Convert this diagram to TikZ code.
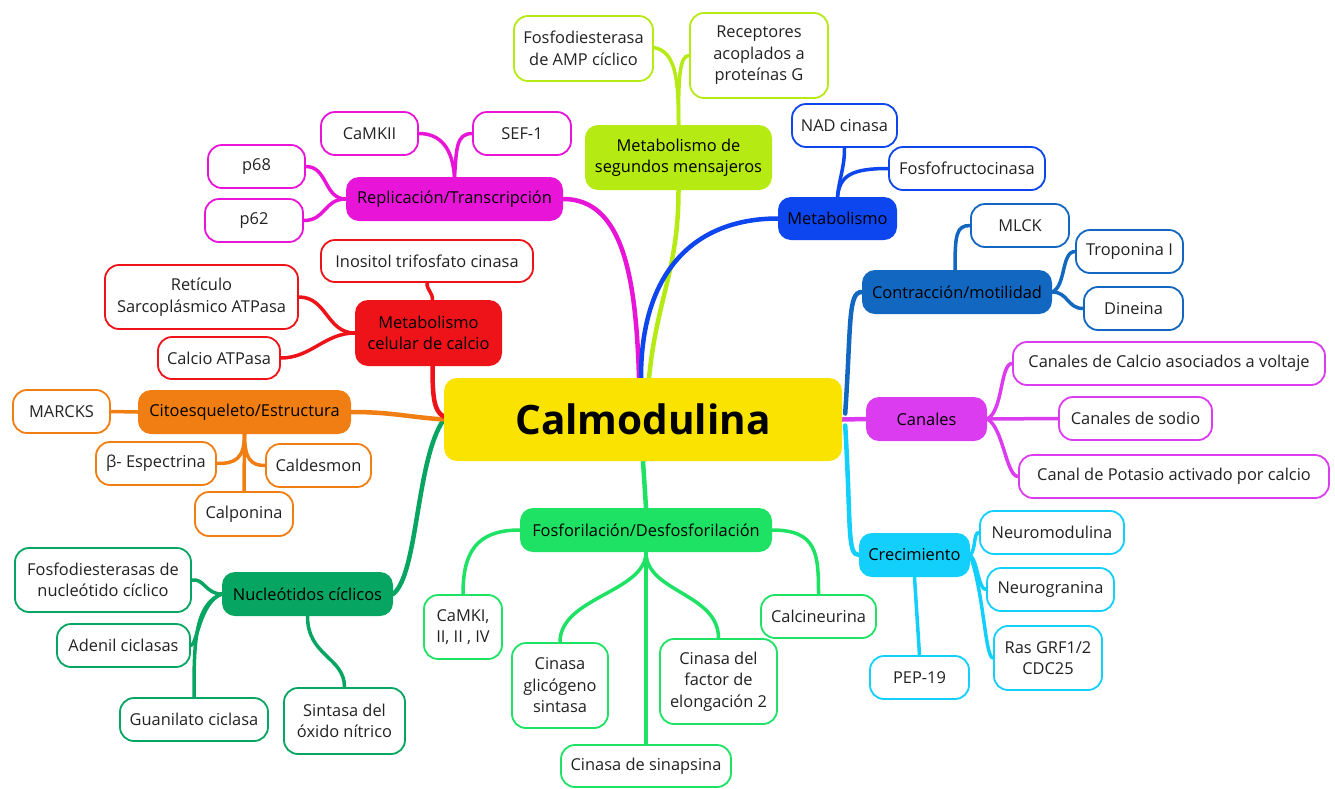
\documentclass[tikz,border=0pt]{standalone}
\usepackage{fontspec}
\setmainfont{Open Sans}
\usetikzlibrary{calc,backgrounds}
\definecolor{cmag}{HTML}{E815D8}
\definecolor{clime}{HTML}{B5EA12}
\definecolor{cblue}{HTML}{0D45EE}
\definecolor{cbl2}{HTML}{1267C0}
\definecolor{cpur}{HTML}{DC3CF0}
\definecolor{ccyan}{HTML}{12CFFB}
\definecolor{cgrn}{HTML}{1DE264}
\definecolor{cdgrn}{HTML}{06A561}
\definecolor{corg}{HTML}{F07E12}
\definecolor{cred}{HTML}{EE1219}
\definecolor{cyel}{HTML}{FBE300}
\definecolor{ctext}{HTML}{222222}
\tikzset{
  leaf/.style={draw=#1, line width=1.8pt, rounded corners=14pt, fill=white, align=center,
    font=\fontsize{16.4}{21.5}\selectfont, text=ctext, inner sep=0pt},
  branch/.style={fill=#1, rounded corners=13pt, align=center,
    font=\fontsize{16.4}{21.5}\selectfont, text=black, inner sep=0pt},
  mainlink/.style={draw=#1, line width=4.5pt, line cap=round},
  sublink/.style={draw=#1, line width=3.5pt, line cap=round},
  sz/.style 2 args={minimum width=#1, minimum height=#2},
}
\begin{document}
\begin{tikzpicture}[x=1pt,y=-1pt]
\useasboundingbox (0,0) rectangle (1335,788);
% center
\node[fill=cyel, rounded corners=13pt, sz={398pt}{83pt}, font=\fontsize{40.5}{42}\selectfont\bfseries, inner sep=0pt] (calm) at (643,419.5) {Calmodulina};
% branches
\node[branch=cmag, sz={217pt}{44pt}] (rep) at (454.5,199) {Replicación/Transcripción};
\node[branch=clime, sz={187pt}{65pt}] (lime) at (678.5,157.5) {Metabolismo de\\segundos mensajeros};
\node[branch=cblue, sz={119pt}{43pt}] (metab) at (837.5,218.5) {Metabolismo};
\node[branch=cbl2, sz={190pt}{44pt}] (contr) at (957,292) {Contracción/motilidad};
\node[branch=cpur, sz={121pt}{44pt}] (canal) at (926.5,419) {Canales};
\node[branch=ccyan, sz={111pt}{44pt}] (crec) at (914.5,555) {Crecimiento};
\node[branch=cgrn, sz={252pt}{44pt}] (fosfo) at (646,530) {Fosforilación/Desfosforilación};
\node[branch=cdgrn, sz={171pt}{44pt}] (nucl) at (307.5,594) {Nucleótidos cíclicos};
\node[branch=corg, sz={213pt}{44pt}] (cito) at (244.5,412) {Citoesqueleto/Estructura};
\node[branch=cred, sz={147pt}{66pt}] (red) at (428.5,333) {Metabolismo\\celular de calcio};
% leaves magenta
\node[leaf=cmag, sz={97pt}{43pt}] (camkii) at (369.5,133.5) {CaMKII};
\node[leaf=cmag, sz={98pt}{43pt}] (sef) at (522,133.5) {SEF-1};
\node[leaf=cmag, sz={97pt}{43pt}] (p68) at (256.5,166.5) {p68};
\node[leaf=cmag, sz={98pt}{43pt}] (p62) at (254,220.5) {p62};
% lime
\node[leaf=clime, sz={139pt}{65pt}] (pdeamp) at (583.5,48.5) {Fosfodiesterasa\\de AMP cíclico};
\node[leaf=clime, sz={138pt}{85pt}] (recep) at (759,55.5) {Receptores\\acoplados a\\proteínas G};
% blue
\node[leaf=cblue, sz={105pt}{43pt}] (nad) at (844.5,125.5) {NAD cinasa};
\node[leaf=cblue, sz={156pt}{43pt}] (pfk) at (967,168.5) {Fosfofructocinasa};
% contraction
\node[leaf=cbl2, sz={98pt}{43pt}] (mlck) at (1020,225.5) {MLCK};
\node[leaf=cbl2, sz={107pt}{43pt}] (tropo) at (1129.5,251.5) {Troponina I};
\node[leaf=cbl2, sz={99pt}{43pt}] (dine) at (1133.5,308.5) {Dineina};
% canales
\node[leaf=cpur, sz={312pt}{43pt}] (ccav) at (1169,363.5) {Canales de Calcio asociados a voltaje};
\node[leaf=cpur, sz={153pt}{43pt}] (sodio) at (1135.5,418.5) {Canales de sodio};
\node[leaf=cpur, sz={310pt}{43pt}] (pota) at (1174,476.5) {Canal de Potasio activado por calcio};
% crecimiento
\node[leaf=ccyan, sz={144pt}{43pt}] (nmod) at (1052,532.5) {Neuromodulina};
\node[leaf=ccyan, sz={127pt}{43pt}] (ngran) at (1050.5,589.5) {Neurogranina};
\node[leaf=ccyan, sz={108pt}{64pt}] (ras) at (1048,658) {Ras GRF1/2\\CDC25};
\node[leaf=ccyan, sz={99pt}{43pt}] (pep) at (919.5,677.5) {PEP-19};
% fosforilacion
\node[leaf=cgrn, sz={78pt}{64pt}] (camki) at (463,627) {CaMKI,\\II, II , IV};
\node[leaf=cgrn, sz={96pt}{85pt}] (glic) at (560,685.5) {Cinasa\\glicógeno\\sintasa};
\node[leaf=cgrn, sz={170pt}{42pt}] (sinap) at (646,766) {Cinasa de sinapsina};
\node[leaf=cgrn, sz={117pt}{85pt}] (factor) at (718.5,681.5) {Cinasa del\\factor de\\elongación 2};
\node[leaf=cgrn, sz={115pt}{43pt}] (calci) at (818.5,616.5) {Calcineurina};
% nucleotidos
\node[leaf=cdgrn, sz={176pt}{64pt}] (pdenuc) at (103,580) {Fosfodiesterasas de\\nucleótido cíclico};
\node[leaf=cdgrn, sz={133pt}{43pt}] (adenil) at (123.5,645.5) {Adenil ciclasas};
\node[leaf=cdgrn, sz={148pt}{43pt}] (guan) at (194,719.5) {Guanilato ciclasa};
\node[leaf=cdgrn, sz={121pt}{66pt}] (nos) at (344.5,721) {Sintasa del\\óxido nítrico};
% citoesqueleto
\node[leaf=corg, sz={97pt}{43pt}] (marcks) at (61.5,411.5) {MARCKS};
\node[leaf=corg, sz={120pt}{43pt}] (espec) at (156,463.5) {β- Espectrina};
\node[leaf=corg, sz={105pt}{43pt}] (caldes) at (318.5,465.5) {Caldesmon};
\node[leaf=corg, sz={98pt}{44pt}] (calpo) at (244,514) {Calponina};
% red
\node[leaf=cred, sz={212pt}{42pt}] (ip3) at (427,261) {Inositol trifosfato cinasa};
\node[leaf=cred, sz={193pt}{64pt}] (serca) at (201.5,297) {Retículo\\Sarcoplásmico ATPasa};
\node[leaf=cred, sz={122pt}{42pt}] (pmca) at (219,358) {Calcio ATPasa};

\begin{scope}[on background layer]
% main links
\draw[mainlink=cmag] ($(calm.north)+(-4,0)$) .. controls +(-3,-100) and +(60,0) .. (rep.east);
\draw[mainlink=clime] ($(calm.north)+(6,0)$) .. controls +(8,-80) and +(0,80) .. (lime.south);
\draw[mainlink=cblue] ($(calm.north)+(-2,0)$) .. controls +(0,-110) and +(-80,0) .. (metab.west);
\draw[mainlink=cbl2] ($(calm.east)+(3,-6)$) .. controls +(6,-90) and +(-14,0) .. (contr.west);
\draw[mainlink=cpur] (calm.east) -- (canal.west);
\draw[mainlink=ccyan] ($(calm.east)+(3,6)$) .. controls +(6,100) and +(-12,0) .. (crec.west);
\draw[mainlink=cgrn] (calm.south) -- (fosfo.north);
\draw[mainlink=cdgrn] (calm.west) .. controls +(-28,40) and +(25,-20) .. (nucl.east);
\draw[mainlink=corg] (calm.west) .. controls +(-40,-3) and +(40,0) .. (cito.east);
\draw[mainlink=cred] ($(red.south)+(4,0)$) .. controls +(0,30) and +(-10,-5) .. ($(calm.west)+(0,-3)$);
% magenta
\draw[sublink=cmag] (rep.north) .. controls +(-2,-28) and +(22,0) .. (camkii.east);
\draw[sublink=cmag] (rep.north) .. controls +(2,-28) and +(-16,0) .. (sef.west);
\draw[sublink=cmag] (p68.east) .. controls +(22,0) and +(-22,0) .. (rep.west);
\draw[sublink=cmag] (p62.east) .. controls +(22,0) and +(-22,0) .. (rep.west);
% lime
\draw[sublink=clime] (lime.north) .. controls +(0,-45) and +(22,4) .. ($(pdeamp.east)+(0,-1)$);
\draw[sublink=clime] (lime.north) .. controls +(0,-45) and +(-10,0) .. (recep.west);
% blue
\draw[sublink=cblue] ($(metab.north)+(0,0)$) .. controls +(2,-20) and +(0,20) .. (nad.south);
\draw[sublink=cblue] ($(metab.north)+(0,0)$) .. controls +(2,-22) and +(-35,0) .. (pfk.west);
% contraction
\draw[sublink=cbl2] ($(contr.north)+(-2,0)$) .. controls +(0,-35) and +(-14,0) .. (mlck.west);
\draw[sublink=cbl2] (contr.east) .. controls +(14,-6) and +(-14,0) .. (tropo.west);
\draw[sublink=cbl2] (contr.east) .. controls +(16,0) and +(-16,0) .. (dine.west);
% canales
\draw[sublink=cpur] (canal.east) .. controls +(16,-8) and +(-12,0) .. (ccav.west);
\draw[sublink=cpur] (canal.east) -- (sodio.west);
\draw[sublink=cpur] (canal.east) .. controls +(16,8) and +(-12,0) .. (pota.west);
% crecimiento
\draw[sublink=ccyan] (crec.east) .. controls +(6,-6) and +(-6,0) .. (nmod.west);
\draw[sublink=ccyan] (crec.east) .. controls +(8,8) and +(-8,0) .. (ngran.west);
\draw[sublink=ccyan] (crec.east) .. controls +(14,40) and +(-8,0) .. (ras.west);
\draw[sublink=ccyan] (crec.south) -- (pep.north);
% fosforilacion
\draw[sublink=cgrn] (fosfo.west) .. controls +(-45,0) and +(0,-40) .. (camki.north);
\draw[sublink=cgrn] (fosfo.south) .. controls +(0,40) and +(0,-45) .. (glic.north);
\draw[sublink=cgrn] (fosfo.south) -- (sinap.north);
\draw[sublink=cgrn] (fosfo.south) .. controls +(0,40) and +(0,-45) .. (factor.north);
\draw[sublink=cgrn] (fosfo.east) .. controls +(45,0) and +(0,-40) .. (calci.north);
% nucleotidos
\draw[sublink=cdgrn] (nucl.west) .. controls +(-16,0) and +(12,-2) .. (pdenuc.east);
\draw[sublink=cdgrn] (nucl.west) .. controls +(-22,8) and +(6,0) .. (adenil.east);
\draw[sublink=cdgrn] (nucl.west) .. controls +(-28,10) and +(0,-50) .. (guan.north);
\draw[sublink=cdgrn] (nucl.south) .. controls +(0,40) and +(0,-30) .. (nos.north);
% citoesqueleto
\draw[sublink=corg] (cito.west) -- (marcks.east);
\draw[sublink=corg] (cito.south) .. controls +(0,25) and +(18,0) .. (espec.east);
\draw[sublink=corg] (cito.south) -- (calpo.north);
\draw[sublink=corg] (cito.south) .. controls +(0,25) and +(-14,0) .. (caldes.west);
% red
\draw[sublink=cred] (serca.east) .. controls +(28,0) and +(-28,0) .. (red.west);
\draw[sublink=cred] (pmca.east) .. controls +(30,0) and +(-30,0) .. (red.west);
\draw[sublink=cred] (ip3.south) .. controls +(0,8) and +(0,-8) .. ($(red.north)+(4,0)$);
\end{scope}
\end{tikzpicture}
\end{document}
